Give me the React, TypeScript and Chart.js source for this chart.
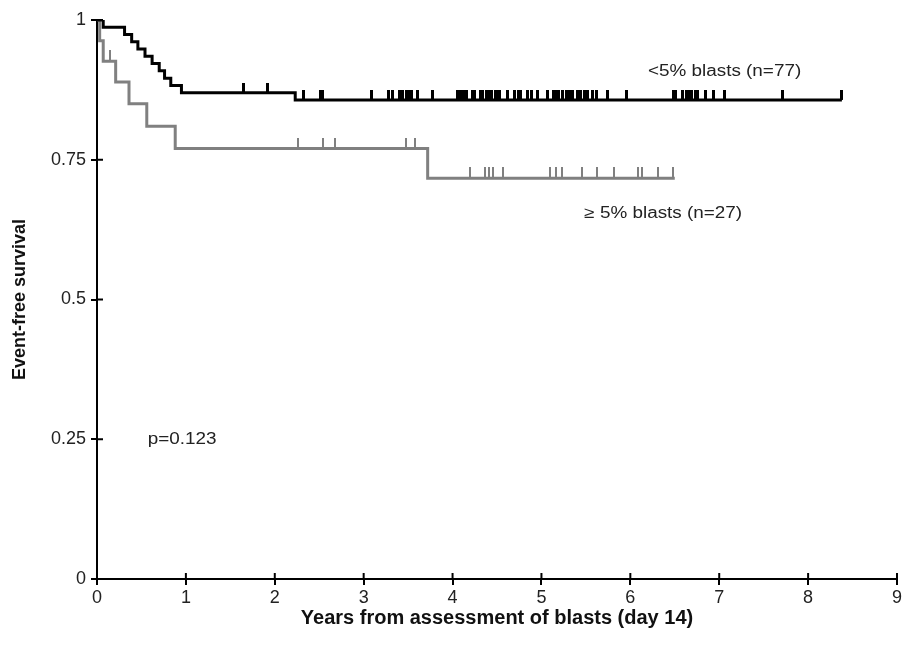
import React, { useEffect, useRef } from "react";
import { Chart, registerables } from "chart.js";

Chart.register(...registerables);

// ---- Data ----
const xTicks = [0, 1, 2, 3, 4, 5, 6, 7, 8, 9];
const yTicks = [0, 0.25, 0.5, 0.75, 1];

// <5% blasts (n=77): event times and survival after each event
const lowEventTimes = [0.07, 0.31, 0.39, 0.46, 0.54, 0.62, 0.7, 0.76, 0.83, 0.95, 2.23];
const lowSurvival = [0.987, 0.974, 0.961, 0.948, 0.935, 0.922, 0.909, 0.896, 0.883, 0.87, 0.857];
const lowEnd = 8.38;
const lowCensored = [
  1.65, 1.92, 2.32, 2.51, 2.54, 3.09, 3.28, 3.32, 3.4, 3.44, 3.48, 3.51, 3.54, 3.6, 3.77,
  4.05, 4.07, 4.09, 4.12, 4.16, 4.22, 4.25, 4.31, 4.34, 4.38, 4.4, 4.44, 4.48, 4.51, 4.53,
  4.62, 4.7, 4.74, 4.76, 4.84, 4.89, 4.95, 5.07, 5.13, 5.16, 5.19, 5.24, 5.28, 5.3, 5.32,
  5.35, 5.41, 5.44, 5.48, 5.52, 5.57, 5.62, 5.74, 5.96, 6.48, 6.51, 6.59, 6.63, 6.66, 6.69,
  6.73, 6.76, 6.84, 6.93, 7.06, 7.71, 8.38,
];

// ≥5% blasts (n=27)
const highEventTimes = [0.03, 0.07, 0.21, 0.36, 0.56, 0.88, 3.72];
const highSurvival = [0.963, 0.926, 0.889, 0.85, 0.81, 0.77, 0.717];
const highEnd = 6.5;
const highCensored = [
  0.15, 2.26, 2.54, 2.68, 3.48, 3.58, 4.2, 4.36, 4.41, 4.45, 4.57, 5.1, 5.16, 5.23, 5.46,
  5.62, 5.82, 6.09, 6.13, 6.31, 6.48,
];

const labels = [
  { text: "<5% blasts (n=77)", x: 7.06, y: 0.908, align: "center" },
  { text: "≥ 5% blasts (n=27)", x: 6.37, y: 0.653, align: "center" },
  { text: "p=0.123", x: 0.57, y: 0.25, align: "left" },
];

// ---- helpers ----
function stepPoints(times: number[], surv: number[], end: number) {
  const pts = [{ x: 0, y: 1 }];
  times.forEach((t, i) => pts.push({ x: t, y: surv[i] }));
  pts.push({ x: end, y: surv[surv.length - 1] });
  return pts;
}
function survAt(times: number[], surv: number[], t: number) {
  let s = 1;
  times.forEach((et, i) => {
    if (et <= t) s = surv[i];
  });
  return s;
}
function tickImage(color: string, w: number, len: number) {
  const c = document.createElement("canvas");
  c.width = w;
  c.height = len * 2;
  const ctx = c.getContext("2d")!;
  ctx.fillStyle = color;
  ctx.fillRect(0, 0, w, len);
  return c;
}

const BLACK = "#000000";
const GRAY = "#808080";
const FONT = "'Liberation Sans', Arial, sans-serif";

export default function App() {
  const ref = useRef<HTMLCanvasElement>(null);
  useEffect(() => {
    const canvas = ref.current!;
    const crossTicks = {
      id: "crossTicks",
      afterDraw(chart: any) {
        const ctx = chart.ctx;
        const xs = chart.scales.x;
        const ys = chart.scales.y;
        ctx.save();
        ctx.strokeStyle = "#000";
        ctx.lineWidth = 2;
        xTicks.forEach((v) => {
          const px = xs.getPixelForValue(v);
          ctx.beginPath();
          ctx.moveTo(px, ys.bottom);
          ctx.lineTo(px, ys.bottom - 6);
          ctx.stroke();
        });
        yTicks.forEach((v) => {
          const py = ys.getPixelForValue(v);
          ctx.beginPath();
          ctx.moveTo(xs.left, py);
          ctx.lineTo(xs.left + 6, py);
          ctx.stroke();
        });
        ctx.fillStyle = "#222";
        ctx.font = "16px " + FONT;
        ctx.textBaseline = "middle";
        labels.forEach((l) => {
          ctx.save();
          ctx.translate(xs.getPixelForValue(l.x), ys.getPixelForValue(l.y));
          ctx.scale(1.18, 1);
          ctx.textAlign = l.align;
          ctx.fillText(l.text, 0, 0);
          ctx.restore();
        });
        ctx.restore();
      },
    };

    const chart = new Chart(canvas, {
      type: "line",
      data: {
        datasets: [
          {
            label: "<5% blasts (n=77)",
            data: stepPoints(lowEventTimes, lowSurvival, lowEnd),
            borderColor: BLACK,
            borderWidth: 3,
            stepped: "before",
            pointRadius: 0,
            fill: false,
          },
          {
            label: "≥ 5% blasts (n=27)",
            data: stepPoints(highEventTimes, highSurvival, highEnd),
            borderColor: GRAY,
            borderWidth: 3,
            stepped: "before",
            pointRadius: 0,
            fill: false,
          },
          {
            label: "censored low",
            type: "scatter",
            data: lowCensored.map((t) => ({ x: t, y: survAt(lowEventTimes, lowSurvival, t) })),
            pointStyle: tickImage(BLACK, 3, 10) as any,
            showLine: false,
          },
          {
            label: "censored high",
            type: "scatter",
            data: highCensored.map((t) => ({ x: t, y: survAt(highEventTimes, highSurvival, t) })),
            pointStyle: tickImage(GRAY, 2, 11) as any,
            showLine: false,
          },
        ],
      } as any,
      options: {
        animation: false,
        responsive: false,
        maintainAspectRatio: false,
        layout: { padding: { left: 0, top: 20, right: 10, bottom: 0 } },
        plugins: { legend: { display: false }, tooltip: { enabled: false } },
        scales: {
          x: {
            type: "linear",
            min: 0,
            max: 9,
            afterFit: (s: any) => {
              s.height = 75;
            },
            afterBuildTicks: (s: any) => {
              s.ticks = xTicks.map((v) => ({ value: v }));
            },
            ticks: {
              color: "#222",
              font: { family: FONT, size: 18 },
              padding: 2,
              maxRotation: 0,
              autoSkip: false,
            },
            grid: { drawOnChartArea: false, color: "#000", lineWidth: 2, tickLength: 6, tickWidth: 2 },
            border: { color: "#000", width: 2 },
            title: {
              display: true,
              text: "Years from assessment of blasts (day 14)",
              color: "#111",
              font: { family: FONT, size: 20, weight: "bold" },
              padding: { top: 0, bottom: 24 },
            },
          },
          y: {
            type: "linear",
            min: 0,
            max: 1,
            afterFit: (s: any) => {
              s.width = 97;
            },
            afterBuildTicks: (s: any) => {
              s.ticks = yTicks.map((v) => ({ value: v }));
            },
            ticks: {
              color: "#222",
              font: { family: FONT, size: 18 },
              padding: 5,
              callback: (v: any) => String(v),
            },
            grid: { drawOnChartArea: false, color: "#000", lineWidth: 2, tickLength: 6, tickWidth: 2 },
            border: { color: "#000", width: 2 },
            title: {
              display: true,
              text: "Event-free survival",
              color: "#111",
              font: { family: FONT, size: 18, weight: "bold" },
              padding: { top: 9, bottom: 0 },
            },
          },
        },
      } as any,
      plugins: [crossTicks],
    });
    return () => chart.destroy();
  }, []);
  return (
    <div style={{ position: "absolute", left: 0, top: 0, width: 907, height: 654, background: "#fff" }}>
      <canvas ref={ref} width={907} height={654} style={{ width: 907, height: 654 }} />
    </div>
  );
}
